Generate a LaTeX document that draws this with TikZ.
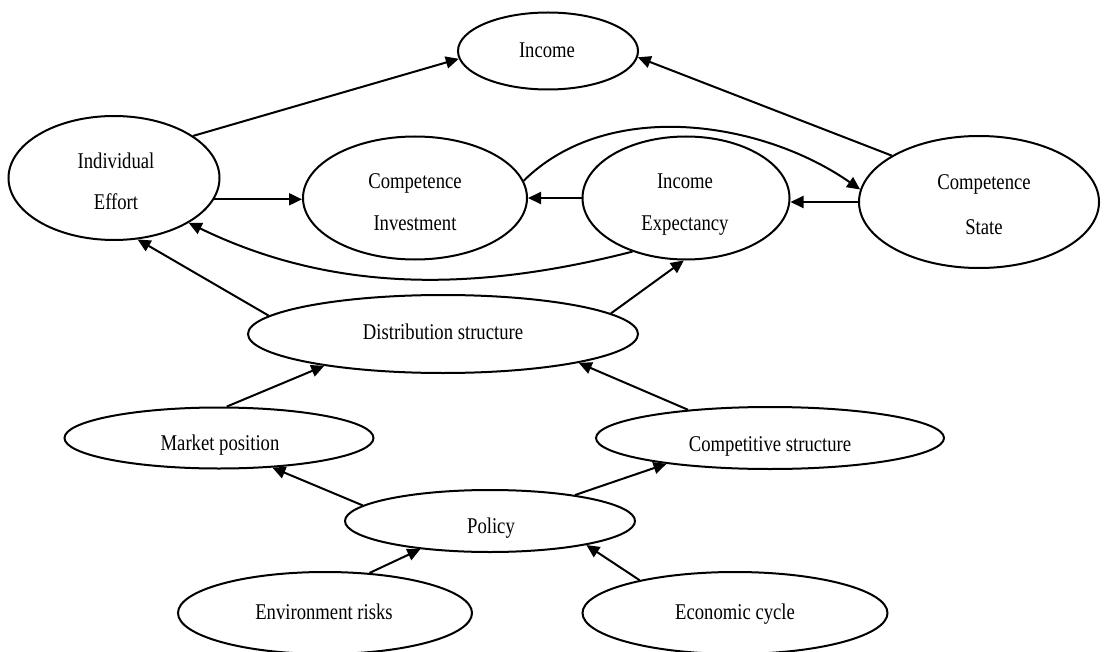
\documentclass[tikz,border=0pt]{standalone}
\usepackage{fontspec}
\setmainfont[FakeStretch=0.83]{Liberation Serif}
\usetikzlibrary{shapes.geometric,arrows.meta}
\begin{document}
\begin{tikzpicture}[x=1pt,y=-1pt,
  oval/.style={draw,ellipse,line width=2pt,inner sep=0pt},
  lbl/.style={font=\fontsize{22.5}{26}\selectfont,inner sep=0pt,anchor=base},
  link/.style={line width=2pt,-{Triangle[length=13pt,width=12pt]}}
]
\useasboundingbox (0,0) rectangle (1107,652);
% ellipses
\node[oval,minimum width=180pt,minimum height=77pt] (inc) at (548,51) {};
\node[oval,minimum width=211pt,minimum height=124pt] (ie) at (114,178) {};
\node[oval,minimum width=224pt,minimum height=123pt] (ci) at (415,198) {};
\node[oval,minimum width=207pt,minimum height=123pt] (iex) at (686,198) {};
\node[oval,minimum width=240pt,minimum height=132pt] (cs) at (979,202) {};
\node[oval,minimum width=390pt,minimum height=78pt] (ds) at (443,334) {};
\node[oval,minimum width=309pt,minimum height=61pt] (mp) at (219,438) {};
\node[oval,minimum width=348pt,minimum height=62pt] (cst) at (770,438) {};
\node[oval,minimum width=290pt,minimum height=62pt] (pol) at (490,521) {};
\node[oval,minimum width=294pt,minimum height=82pt] (er) at (325,613) {};
\node[oval,minimum width=305pt,minimum height=82pt] (ec) at (735,613) {};
% texts
\node[lbl] (inc-t) at (547,58) {Income};
\node[lbl] (ie-t1) at (116,169) {Individual};
\node[lbl] (ie-t2) at (116,210) {Effort};
\node[lbl] (ci-t1) at (415,189) {Competence};
\node[lbl] (ci-t2) at (415,231) {Investment};
\node[lbl] (iex-t1) at (685,189) {Income};
\node[lbl] (iex-t2) at (685,231) {Expectancy};
\node[lbl] (cs-t1) at (984,190) {Competence};
\node[lbl] (cs-t2) at (984,234) {State};
\node[lbl] (ds-t) at (443,339) {Distribution structure};
\node[lbl] (mp-t) at (220,450) {Market position};
\node[lbl] (cst-t) at (770,451) {Competitive structure};
\node[lbl] (pol-t) at (491,533) {Policy};
\node[lbl] (er-t) at (324,619) {Environment risks};
\node[lbl] (ec-t) at (735,619) {Economic cycle};
% straight connectors
\draw[link] (ie.28) -- (inc.185);
\draw[link] (ie.-12) -- (ie.-12 -| ci.west);
\draw[link] (iex.west) -- (ci.east);
\draw[link] (cs.west) -- (iex.east |- cs.west);
\draw[link] (cs.152) -- (inc.-4);
\draw[link] (ds.174.6) -- (ie.-69);
\draw[link] (ds.7) -- (iex.-92);
\draw[link] (mp.76) -- (ds.195);
\draw[link] (cst.161) -- (ds.-12.8);
\draw[link] (pol.173) -- (mp.-29);
\draw[link] (pol.17) -- (cst.194);
\draw[link] (er.42) -- (pol.202.5);
\draw[link] (ec.161) -- (pol.-14);
% curved connectors
\draw[link] (ci.9.5) .. controls +(85,-84) and +(-97,-68) .. (cs.174.5);
\draw[link] (iex.225) .. controls +(-164,42) and +(140,68) .. (ie.-31);
\end{tikzpicture}
\end{document}
